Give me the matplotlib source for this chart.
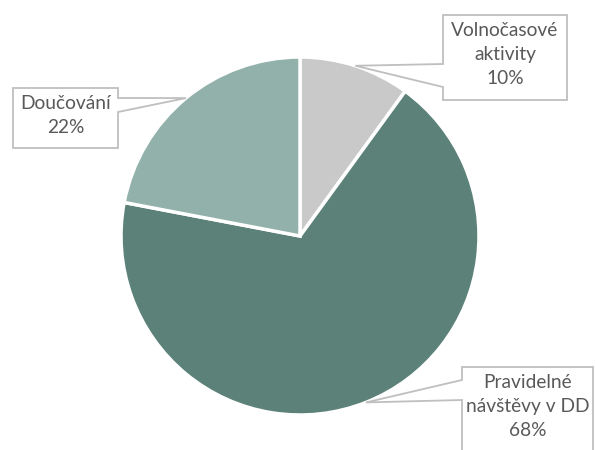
import numpy as np
import matplotlib.pyplot as plt
from matplotlib.patches import Polygon

# data
kategorie = ['Volnočasové\naktivity', 'Pravidelné\nnávštěvy v DD', 'Doučování']
hodnoty = [10, 68, 22]
barvy = ['#c9c9c9', '#5b8179', '#91b1aa']

W, H = 595, 450
fig = plt.figure(figsize=(W / 100, H / 100), dpi=100)
ax = fig.add_axes([0, 0, 1, 1])

cx, cy, r = 300, H - 236, 179
wedges, _ = ax.pie(hodnoty, colors=barvy, startangle=90, counterclock=False,
                   center=(cx, cy), radius=r, frame=True,
                   wedgeprops=dict(edgecolor='white', linewidth=2.5))
ax.set_xlim(0, W)
ax.set_ylim(0, H)
ax.axis('off')

# callout boxes in pixel coords (x0, y0, x1, y1), side of attachment, attach y's
boxy = [
    ((443, 15, 567, 100), 'left', (64, 87)),
    ((462, 367, 593, 460), 'left', (380, 400)),
    ((13, 88, 118, 148), 'right', (98, 112)),
]

for w, hod, kat, (bx, strana, (ya, yb)) in zip(wedges, hodnoty, kategorie, boxy):
    mid = np.deg2rad((w.theta1 + w.theta2) / 2)
    tip = (cx + r * np.cos(mid), cy + r * np.sin(mid))
    x0, y0, x1, y1 = bx
    y0, y1, ya, yb = H - y0, H - y1, H - ya, H - yb
    if strana == 'left':
        pts = [(x0, y0), (x1, y0), (x1, y1), (x0, y1), (x0, yb), tip, (x0, ya)]
    else:
        pts = [(x0, y0), (x1, y0), (x1, ya), tip, (x1, yb), (x1, y1), (x0, y1)]
    ax.add_patch(Polygon(pts, closed=True, facecolor='white', edgecolor='#bfbfbf',
                         linewidth=1.3, zorder=5))
    ax.text((x0 + x1) / 2, y0 - 7, f'{kat}\n{hod}%', ha='center', va='top',
            fontsize=13.8, color='#595959', family='Lato', linespacing=1.5, zorder=6)

fig.savefig('out.png', dpi=100)
